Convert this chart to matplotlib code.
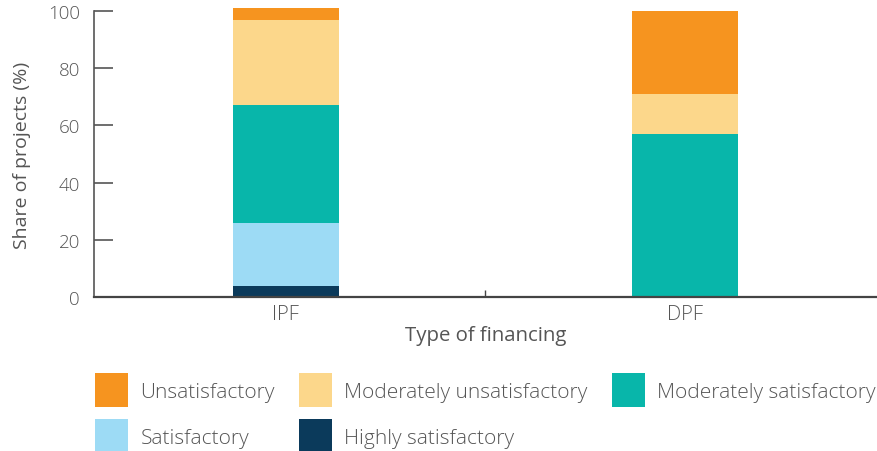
import matplotlib
matplotlib.use("Agg")
import matplotlib.pyplot as plt
from matplotlib.patches import Patch
import numpy as np

categories = ["IPF", "DPF"]
series_names = ["Highly satisfactory", "Satisfactory", "Moderately satisfactory",
                "Moderately unsatisfactory", "Unsatisfactory"]
highly_satisfactory = [4, 0]
satisfactory = [22, 0]
moderately_satisfactory = [41, 57]
moderately_unsatisfactory = [30, 14]
unsatisfactory = [4, 29]
colors = {
    "Highly satisfactory": "#0B3A5B",
    "Satisfactory": "#9DDBF5",
    "Moderately satisfactory": "#08B6AA",
    "Moderately unsatisfactory": "#FCD78B",
    "Unsatisfactory": "#F6941F",
}
values = [highly_satisfactory, satisfactory, moderately_satisfactory,
          moderately_unsatisfactory, unsatisfactory]

plt.rcParams['font.family'] = ['Open Sans', 'DejaVu Sans']
plt.rcParams['font.weight'] = 'light'
text_color = "#555555"

fig = plt.figure(figsize=(8.78, 4.52), dpi=100)
ax = fig.add_axes([94/878, 1-298/452, 1-94/878, (298-12)/452])

x = np.arange(len(categories))
bottom = np.zeros(len(categories))
for name, vals in zip(series_names, values):
    bars = ax.bar(x, vals, width=0.266, bottom=bottom, color=colors[name],
                  edgecolor='none', label=name, zorder=2)
    for b in bars:
        b.set_clip_on(False)
    bottom += np.array(vals)

ax.set_xlim(-0.481, 1.484)
ax.set_ylim(0, 100)
ax.set_yticks([0, 20, 40, 60, 80, 100])
ax.set_xticks(x)
ax.set_xticklabels(categories)
ax.set_xticks([0.5], minor=True)
ax.tick_params(axis='x', which='major', length=0, pad=5, labelsize=14.5, labelcolor=text_color)
ax.tick_params(axis='x', which='minor', direction='in', length=5, width=1, color="#444444")
ax.tick_params(axis='y', direction='in', length=13.5, width=1.2, color="#555555",
               pad=10, labelsize=13.5, labelcolor=text_color)

for s in ['top', 'right']:
    ax.spines[s].set_visible(False)
ax.spines['left'].set_color("#555555")
ax.spines['left'].set_linewidth(1.2)
ax.spines['bottom'].set_color("#444444")
ax.spines['bottom'].set_linewidth(1.6)

ax.set_xlabel("Type of financing", fontsize=14.7, color=text_color, labelpad=1)
ax.set_ylabel("Share of projects (%)", fontsize=14, color=text_color, labelpad=12)

order = ["Unsatisfactory", "Satisfactory", "Moderately unsatisfactory",
         "Highly satisfactory", "Moderately satisfactory"]
handles = [Patch(facecolor=colors[n], edgecolor='none', label=n) for n in order]
leg = fig.legend(handles=handles, loc='upper left', ncol=3,
                 bbox_to_anchor=(95/878, 1-374/452), frameon=False,
                 fontsize=15, handlelength=1.6, handleheight=2.14,
                 handletextpad=0.58, columnspacing=1.15, labelspacing=0.58,
                 borderpad=0, borderaxespad=0)
for t in leg.get_texts():
    t.set_color(text_color)

fig.savefig("out.png", dpi=100)
